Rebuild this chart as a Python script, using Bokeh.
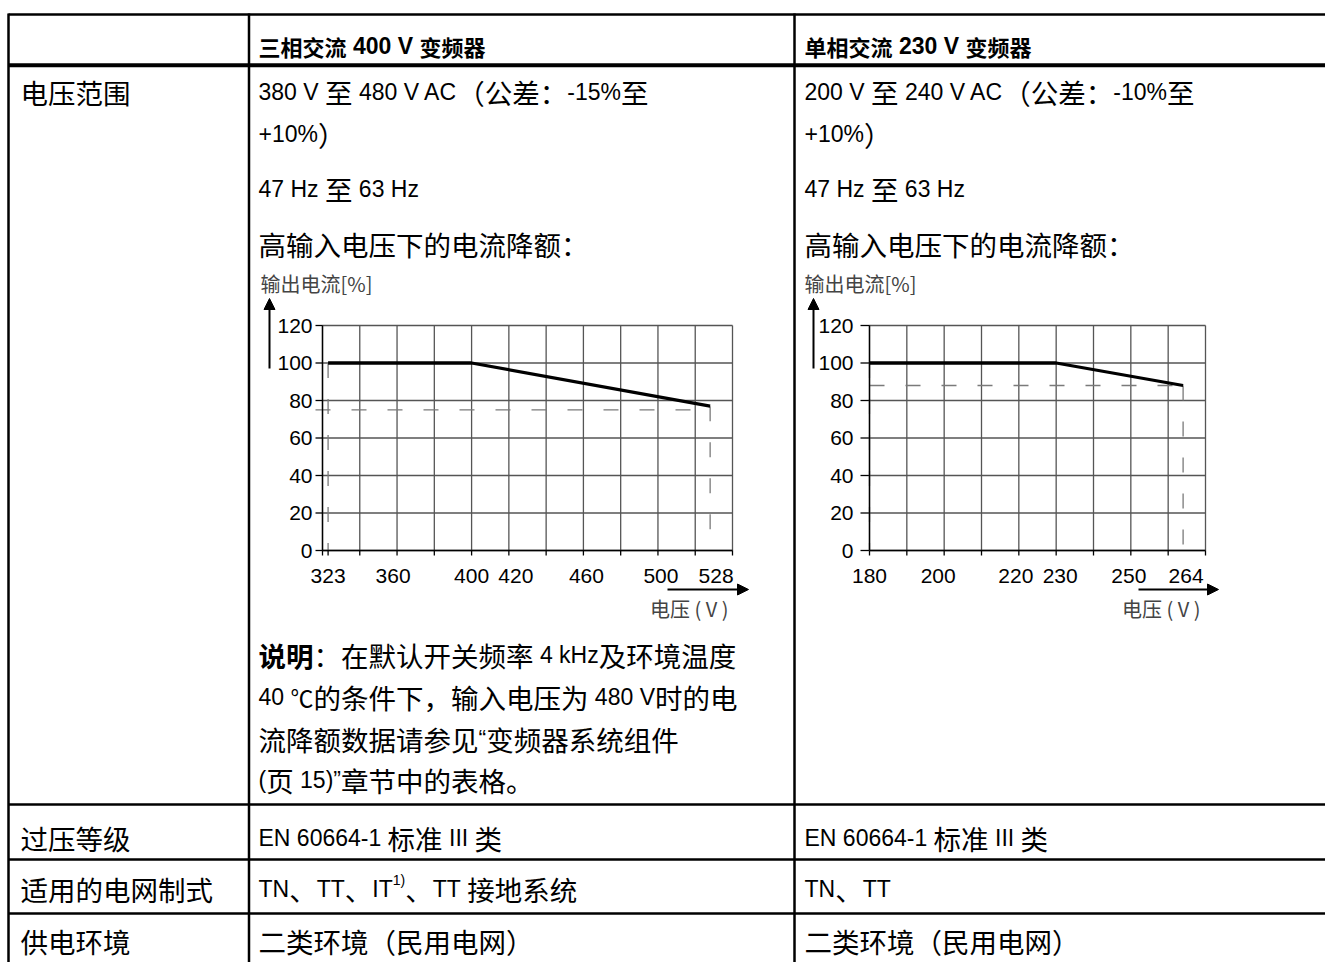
from bokeh.plotting import figure
from bokeh.models import Range1d, Arrow, NormalHead, Label
from bokeh.embed import file_html
from bokeh.resources import INLINE
from bokeh.core.properties import value

# ---------------- data ----------------
header_col2 = "三相交流 400 V 变频器"
header_col3 = "单相交流 230 V 变频器"
row_labels = ["电压范围", "过压等级", "适用的电网制式", "供电环境"]
col2_top = ["380 V 至 480 V AC（公差：-15%至", "+10%）", "47 Hz 至 63 Hz", "高输入电压下的电流降额："]
col3_top = ["200 V 至 240 V AC（公差：-10%至", "+10%）", "47 Hz 至 63 Hz", "高输入电压下的电流降额："]
note_bold = "说明"
note_lines = ["：在默认开关频率 4 kHz及环境温度",
              "40 ℃的条件下，输入电压为 480 V时的电",
              "流降额数据请参见“变频器系统组件",
              "(页 15)”章节中的表格。"]
col2_bottom = ["EN 60664-1 标准 III 类", "TN、TT、IT¹⁾、TT 接地系统", "二类环境（民用电网）"]
col3_bottom = ["EN 60664-1 标准 III 类", "TN、TT", "二类环境（民用电网）"]

y_title = "输出电流[%]"
x_title = "电压 ( V )"
y_ticks = [0, 20, 40, 60, 80, 100, 120]

c1_line_x = [323, 400, 528]
c1_line_y = [100, 100, 77]
c1_ref_y = 75
c1_x_labels = [323, 360, 400, 420, 460, 500, 528]
c1_x_grid = [320, 340, 360, 380, 400, 420, 440, 460, 480, 500, 520, 540]

c2_line_x = [180, 230, 264]
c2_line_y = [100, 100, 88]
c2_ref_y = 88
c2_x_labels = [180, 200, 220, 230, 250, 264]
c2_x_grid = [180, 190, 200, 210, 220, 230, 240, 250, 260, 270]

# ---------------- style / layout ----------------
W, H = 1325, 962
CJK = "Noto Sans CJK SC"
LAT = "Liberation Sans"
CJK_FS = 27.5
LAT_FS = 23
BASE_FIX = 11          # renderer places alphabetic baselines this much lower
GRID_COL = "#555555"
DASH_COL = "#7a7a7a"
X_BORDER, X_C1, X_C2 = 8, 248.5, 794
TX1, TX2, TX3 = 20, 258, 804
c1_label_nudge = [0, -4, 0, 7, 3, 3, 6]
c2_label_nudge = [0, -6, -3, 4, -2, 3]

ARIAL = {' ': 278, 'A': 667, 'C': 722, 'E': 667, 'H': 722, 'I': 278, 'N': 722, 'T': 611, 'V': 667,
         'k': 500, 'z': 500, '%': 889, '+': 584, '-': 333, '(': 333, ')': 333, '“': 333, '”': 333,
         '[': 278, ']': 278, '.': 278}
SUP = {'¹': '1', '⁾': ')'}

p = figure(width=W, height=H, x_range=Range1d(0, W), y_range=Range1d(H, 0),
           toolbar_location=None, output_backend="svg", min_border=0, outline_line_color=None)
p.axis.visible = False
p.grid.visible = False
p.background_fill_color = "white"
p.border_fill_color = "white"

batches = {}


def add_text(x, y, s, font, size, style="normal"):
    key = (font, size, style)
    b = batches.setdefault(key, ([], [], []))
    b[0].append(x)
    b[1].append(y - BASE_FIX)
    b[2].append(s)


def classify(ch):
    o = ord(ch)
    if ch in SUP:
        return "sup"
    if ch == "℃":
        return "sym"
    if 0x2E80 <= o <= 0x9FFF or 0x3000 <= o <= 0x303F or 0xFF00 <= o <= 0xFFEF:
        return "cjk"
    return "lat"


def lat_w(t, fs):
    return sum(ARIAL.get(ch, 556) for ch in t) * fs / 1000


def rich(x, base, s, cjk_fs=CJK_FS, lat_fs=LAT_FS, style="normal"):
    runs = []
    for ch in s:
        c = classify(ch)
        if runs and runs[-1][0] == c:
            runs[-1][1] += ch
        else:
            runs.append([c, ch])
    cur = x
    for c, t in runs:
        if c == "cjk":
            add_text(cur, base, t, CJK, cjk_fs, style)
            cur += len(t) * cjk_fs
        elif c == "sym":
            add_text(cur, base, t, CJK, lat_fs)
            cur += len(t) * lat_fs
        elif c == "sup":
            sfs = round(lat_fs * 0.6)
            tt = "".join(SUP[ch] for ch in t)
            add_text(cur, base - lat_fs * 0.38, tt, LAT, sfs)
            cur += lat_w(tt, sfs)
        else:
            body = t.lstrip(" ")
            cur += lat_w(t[:len(t) - len(body)], lat_fs)
            if body.strip(" "):
                add_text(cur, base, body.rstrip(" "), LAT, lat_fs, style)
            cur += lat_w(body, lat_fs)
    return cur


# ---------------- table rules ----------------
def hseg(ys, w):
    p.segment(x0=[X_BORDER] * len(ys), y0=ys, x1=[W] * len(ys), y1=ys, line_color="black", line_width=w)


hseg([14], 2.5)
hseg([64.7], 4)
hseg([804, 859, 913], 2.5)
vx = [X_BORDER, X_C1, X_C2]
p.segment(x0=vx, y0=[13] * 3, x1=vx, y1=[H] * 3, line_color="black", line_width=2.5)

# ---------------- table texts ----------------
rich(TX2, 56, header_col2, cjk_fs=22, lat_fs=23, style="bold")
rich(TX3, 56, header_col3, cjk_fs=22, lat_fs=23, style="bold")
rich(TX1, 102, row_labels[0])
for yb, s2, s3 in zip([102, 144, 199, 254], col2_top, col3_top):
    rich(TX2, yb, s2)
    rich(TX3, yb, s3)
note_y = [665, 707, 749, 790]
nx = rich(TX2, note_y[0], note_bold, style="bold")
rich(nx, note_y[0], note_lines[0])
for yb, s in zip(note_y[1:], note_lines[1:]):
    rich(TX2, yb, s)
for yb, lab, s2, s3 in zip([848, 899, 951], row_labels[1:], col2_bottom, col3_bottom):
    rich(TX1, yb, lab)
    rich(TX2, yb, s2)
    rich(TX3, yb, s3)

# ---------------- charts ----------------
Y_TOP, Y_BOT = 325, 550
ppy = (Y_BOT - Y_TOP) / 120.0
p.extra_y_ranges = {"cy": Range1d((Y_BOT - H) / ppy, Y_BOT / ppy)}
xr = {}


def chart(name, x0, x1, left, right, grid, labels, nudge, lx, ly, ref_y, ytick_len, ylab_gap,
          ref_start_px, arrow_x, xarrow, xt_right, title_x):
    ppx = (right - left) / (x1 - x0)
    xr[name] = Range1d(x0 - left / ppx, x0 + (W - left) / ppx)
    p.extra_x_ranges = dict(xr)
    kw = dict(x_range_name=name, y_range_name="cy")
    # grid
    p.segment(x0=grid, y0=[0] * len(grid), x1=grid, y1=[120] * len(grid),
              line_color=GRID_COL, line_width=1.3, **kw)
    p.segment(x0=[x0] * len(y_ticks), y0=y_ticks, x1=[x1] * len(y_ticks), y1=y_ticks,
              line_color=GRID_COL, line_width=1.3, **kw)
    # ticks
    xt = sorted(set(grid + [lx[0]]))
    p.segment(x0=xt, y0=[0] * len(xt), x1=xt, y1=[-5 / ppy] * len(xt),
              line_color="black", line_width=1.3, **kw)
    p.segment(x0=[x0 - ytick_len / ppx] * len(y_ticks), y0=y_ticks, x1=[x0] * len(y_ticks), y1=y_ticks,
              line_color="black", line_width=1.3, **kw)
    # reference dashed lines
    p.segment(x0=[x0 + (ref_start_px - left) / ppx, lx[0], lx[-1]], y0=[ref_y, ly[0], ly[-1]],
              x1=[lx[-1], lx[0], lx[-1]], y1=[ref_y, 0, 0],
              line_color=DASH_COL, line_width=1.3, line_dash="15 21", **kw)
    # axes
    p.segment(x0=[x0, x0], y0=[0, 0], x1=[x0, x1], y1=[120, 0], line_color="black", line_width=1.4, **kw)
    # derating curve
    p.line(x=lx, y=ly, line_color="black", line_width=3.3, **kw)
    # tick labels
    p.text(x=labels, y=[-(575 - Y_BOT) / ppy] * len(labels), text=[str(v) for v in labels],
           x_offset=nudge, text_font=value(LAT), text_font_size="21px", text_align="center",
           text_baseline="middle", **kw)
    p.text(x=[x0 - ylab_gap / ppx] * len(y_ticks), y=y_ticks, text=[str(v) for v in y_ticks],
           text_font=value(LAT), text_font_size="21px", text_align="right", text_baseline="middle", **kw)
    # titles and arrows (page coordinates)
    p.add_layout(Label(x=title_x, y=283, text=y_title, text_font=CJK, text_font_size="20px",
                       text_baseline="middle", text_align="left"))
    p.add_layout(Label(x=xt_right, y=608, text=x_title, text_font=CJK, text_font_size="20px",
                       text_baseline="middle", text_align="right"))
    p.add_layout(Arrow(x_start=arrow_x, y_start=368, x_end=arrow_x, y_end=298, line_width=2,
                       line_color="black", end=NormalHead(size=11, fill_color="black", line_color="black")))
    p.add_layout(Arrow(x_start=xarrow[0], y_start=589, x_end=xarrow[1], y_end=589, line_width=2,
                       line_color="black", end=NormalHead(size=11, fill_color="black", line_color="black")))


chart("c1", 320, 540, 322, 732, c1_x_grid, c1_x_labels, c1_label_nudge, c1_line_x, c1_line_y, c1_ref_y,
      7, 10, 315, 269, (667, 748), 728, 260)
chart("c2", 180, 270, 869, 1205, c2_x_grid, c2_x_labels, c2_label_nudge, c2_line_x, c2_line_y, c2_ref_y,
      9, 16, 869, 813, (1138, 1218), 1200, 804)

for (font, size, style), (xs, ys, ts) in batches.items():
    p.text(x=xs, y=ys, text=ts, text_font=value(font), text_font_size=f"{size}px",
           text_font_style=style, text_align="left", text_baseline="alphabetic", text_color="black")

open("out.html", "w").write(file_html(p, INLINE))
